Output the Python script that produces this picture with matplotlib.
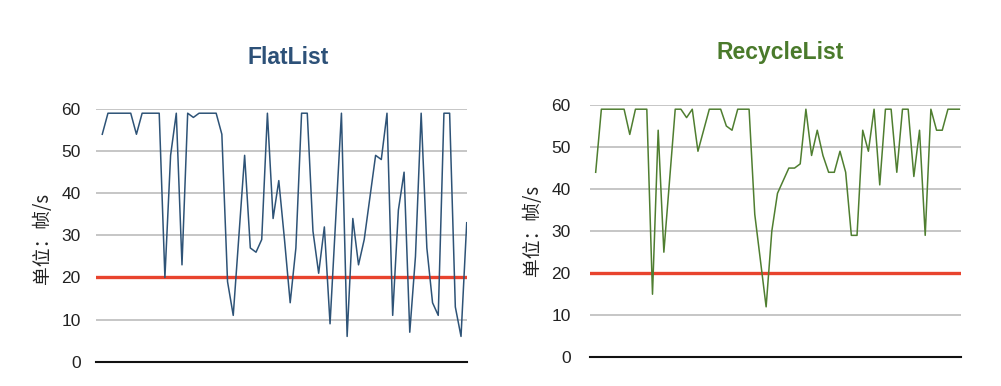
import matplotlib
matplotlib.use("Agg")
import matplotlib.pyplot as plt
import numpy as np

plt.rcParams['font.family'] = ['Liberation Sans', 'Noto Sans CJK SC', 'DejaVu Sans']

flat_values = [54, 59, 59, 59, 59, 59, 54, 59, 59, 59, 59, 20, 49, 59, 23, 59, 58, 59, 59, 59,
               59, 54, 19, 11, 30, 49, 27, 26, 29, 59, 34, 43, 29, 14, 27, 59, 59, 31, 21, 32,
               9, 34, 59, 6, 34, 23, 29, 39, 49, 48, 59, 11, 36, 45, 7, 25, 59, 27, 14, 11,
               59, 59, 13, 6, 33]
recycle_values = [44, 59, 59, 59, 59, 59, 53, 59, 59, 59, 15, 54, 25, 42, 59, 59, 57, 59, 49, 54,
                  59, 59, 59, 55, 54, 59, 59, 59, 34, 23, 12, 30, 39, 42, 45, 45, 46, 59, 48, 54,
                  48, 44, 44, 49, 44, 29, 29, 54, 49, 59, 41, 59, 59, 44, 59, 59, 43, 54, 29, 59,
                  54, 54, 59, 59, 59]
threshold = 20
y_ticks = [0, 10, 20, 30, 40, 50, 60]
titles = ["FlatList", "RecycleList"]
ylabel = "单位：帧/s"

W, H = 1001, 386
fig = plt.figure(figsize=(W / 100, H / 100), dpi=100)

def px_axes(x0, x1, ytop, ybot):
    return fig.add_axes([x0 / W, 1 - ybot / H, (x1 - x0) / W, (ybot - ytop) / H])

specs = [
    dict(vals=flat_values, color="#2e5377", tcolor="#2d5178", box=(96, 467, 109, 361.7),
         xlim=(-1.1, 64.05), title_xy=(288, 57), ylab_x=42, ylab_y=238, pad=11),
    dict(vals=recycle_values, color="#4f7e30", tcolor="#4a7a2b", box=(590, 961, 105, 357.3),
         xlim=(-1.0, 64.3), title_xy=(780, 52), ylab_x=533, ylab_y=230, pad=14),
]

for s, title in zip(specs, titles):
    ax = px_axes(*s["box"])
    x = np.arange(len(s["vals"]))
    ax.set_xlim(*s["xlim"])
    ax.set_ylim(0, 60)
    ax.set_yticks(y_ticks)
    ax.yaxis.grid(True, color="#c6c6c6", linewidth=1.4)
    ax.set_axisbelow(True)
    for side in ["top", "right", "left"]:
        ax.spines[side].set_visible(False)
    ax.spines["bottom"].set_color("#111111")
    ax.spines["bottom"].set_linewidth(1.5)
    ax.spines["bottom"].set_zorder(5)
    ax.set_xticks([])
    ax.tick_params(axis="y", length=0, pad=s["pad"], labelsize=12.5, labelcolor="#222222")
    ax.axhline(threshold, color="#e8432e", linewidth=2.4, zorder=3)
    ax.plot(x, s["vals"], color=s["color"], linewidth=1.1, zorder=4)
    ax.patch.set_alpha(0)
    fig.text(s["title_xy"][0] / W, 1 - s["title_xy"][1] / H, title, ha="center", va="center",
             fontsize=16.5, fontweight="bold", color=s["tcolor"])
    fig.text(s["ylab_x"] / W, 1 - s["ylab_y"] / H, ylabel, ha="center", va="center",
             rotation=90, fontsize=13.5, color="#222222",
             family=['Noto Sans CJK SC', 'DejaVu Sans'])

fig.savefig("out.png", dpi=100)
